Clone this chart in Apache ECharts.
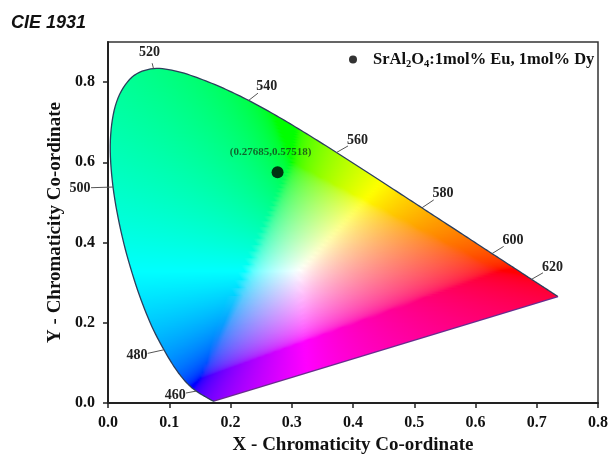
<!doctype html>
<html>
<head>
<meta charset="utf-8">
<title>CIE 1931</title>
<script src="https://cdn.jsdelivr.net/npm/echarts@6/dist/echarts.min.js"></script>
</head>
<body style="margin:0;padding:0">
<div id="main" style="width:611px;height:460px"></div>
<script>
// CIE 1931 2deg spectral locus, 380-700 nm every 5 nm
var wavelengths = [380,385,390,395,400,405,410,415,420,425,430,435,440,445,450,455,460,465,470,475,
  480,485,490,495,500,505,510,515,520,525,530,535,540,545,550,555,560,565,570,575,
  580,585,590,595,600,605,610,615,620,625,630,635,640,645,650,655,660,665,670,675,
  680,685,690,695,700];
var locusX = [0.1741,0.1740,0.1738,0.1736,0.1733,0.1730,0.1726,0.1721,0.1714,0.1703,0.1689,0.1669,0.1644,0.1611,0.1566,0.1510,0.1440,0.1355,0.1241,0.1096,
  0.0913,0.0687,0.0454,0.0235,0.0082,0.0039,0.0139,0.0389,0.0743,0.1142,0.1547,0.1929,0.2296,0.2658,0.3016,0.3373,0.3731,0.4087,0.4441,0.4788,
  0.5125,0.5448,0.5752,0.6029,0.6270,0.6482,0.6658,0.6801,0.6915,0.7006,0.7079,0.7140,0.7190,0.7230,0.7260,0.7283,0.7300,0.7311,0.7320,0.7327,
  0.7334,0.7340,0.7344,0.7346,0.7347];
var locusY = [0.0050,0.0050,0.0049,0.0049,0.0048,0.0048,0.0048,0.0048,0.0051,0.0058,0.0069,0.0086,0.0109,0.0138,0.0177,0.0227,0.0297,0.0399,0.0578,0.0868,
  0.1327,0.2007,0.2950,0.4127,0.5384,0.6548,0.7502,0.8120,0.8338,0.8262,0.8059,0.7816,0.7543,0.7243,0.6923,0.6589,0.6245,0.5896,0.5547,0.5202,
  0.4866,0.4544,0.4242,0.3965,0.3725,0.3514,0.3340,0.3197,0.3083,0.2993,0.2920,0.2859,0.2809,0.2770,0.2740,0.2717,0.2700,0.2689,0.2680,0.2673,
  0.2666,0.2660,0.2656,0.2654,0.2653];
var labelledWl = [460,480,500,520,540,560,580,600,620];
var sampleName = 'SrAl2O4:1mol% Eu, 1mol% Dy';
var sampleX = [0.27685];
var sampleY = [0.57518];
var yTicks = [0,0.2,0.4,0.6,0.8];

var serif = '"Liberation Serif", "Times New Roman", serif';
// pixel offsets of the wavelength labels from the locus
var labelOffset = {460:[-21,4],480:[-27,6],500:[-33,1],520:[-4,-16],540:[18,-14],560:[21,-12],580:[21,-14],600:[21,-13],620:[21,-12]};

// xy -> displayable sRGB (half desaturated, max-normalised)
function xyColor(x, y) {
    var X = x / y, Z = (1 - x - y) / y;
    var c = [3.2406 * X - 1.5372 - 0.4986 * Z,
             -0.9689 * X + 1.8758 + 0.0415 * Z,
             0.0557 * X - 0.2040 + 1.0570 * Z];
    var lo = Math.min(0, c[0], c[1], c[2]) * 0.5;
    c = c.map(function (v) { return Math.max(0, v - lo); });
    var m = Math.max(c[0], c[1], c[2]);
    return 'rgb(' + c.map(function (v) {
        v = v / m;
        v = v <= 0.0031308 ? 12.92 * v : 1.055 * Math.pow(v, 1 / 2.4) - 0.055;
        return Math.round(v * 255);
    }).join(',') + ')';
}

// smooth curve through the locus points (pixel space)
function smoothPath(pts) {
    var out = [], n = pts.length, sub = 8;
    for (var i = 0; i < n - 1; i++) {
        var p0 = pts[Math.max(0, i - 1)], p1 = pts[i], p2 = pts[i + 1], p3 = pts[Math.min(n - 1, i + 2)];
        for (var s = 0; s < sub; s++) {
            var t = s / sub, t2 = t * t, t3 = t2 * t;
            out.push([0, 1].map(function (d) {
                return 0.5 * (2 * p1[d] + (-p0[d] + p2[d]) * t + (2 * p0[d] - 5 * p1[d] + 4 * p2[d] - p3[d]) * t2 + (-p0[d] + 3 * p1[d] - 3 * p2[d] + p3[d]) * t3);
            }));
        }
    }
    out.push(pts[n - 1]);
    return out;
}

function renderFill(params, api) {
    var pix = locusX.map(function (x, i) { return api.coord([x, locusY[i]]); });
    var curve = smoothPath(pix);
    var o = api.coord([0, 0]), ux = api.coord([1, 0])[0] - o[0], uy = api.coord([0, 1])[1] - o[1];
    var n = curve.length;
    var ys = curve.map(function (p) { return p[1]; });
    var top = Math.floor(Math.min.apply(null, ys)), bot = Math.ceil(Math.max.apply(null, ys));
    var kids = [];
    for (var py = top; py < bot; py++) {
        var yc = py + 0.5, xs = [];
        for (var i = 0; i < n; i++) {
            var a = curve[i], b = curve[(i + 1) % n];
            if ((a[1] <= yc && b[1] > yc) || (b[1] <= yc && a[1] > yc)) {
                xs.push(a[0] + (yc - a[1]) / (b[1] - a[1]) * (b[0] - a[0]));
            }
        }
        if (xs.length < 2) continue;
        var xl = Math.min.apply(null, xs), xr = Math.max.apply(null, xs);
        var dy = (yc - o[1]) / uy;
        var stops = [];
        for (var k = 0; k <= 48; k++) {
            var t = k / 48;
            stops.push({ offset: t, color: xyColor((xl + (xr - xl) * t - o[0]) / ux, dy) });
        }
        kids.push({
            type: 'rect',
            shape: { x: xl, y: py, width: xr - xl, height: 1 },
            style: { fill: { type: 'linear', x: 0, y: 0, x2: 1, y2: 0, colorStops: stops } }
        });
    }
    kids.push({
        type: 'polyline', shape: { points: curve },
        style: { stroke: '#2c3e5c', lineWidth: 1.3, fill: null }
    });
    kids.push({
        type: 'line', shape: { x1: curve[n - 1][0], y1: curve[n - 1][1], x2: curve[0][0], y2: curve[0][1] },
        style: { stroke: '#6a2c8e', lineWidth: 1.3 }
    });
    return { type: 'group', children: kids };
}

function renderWl(params, api) {
    var wl = api.value(0);
    var p = api.coord([api.value(1), api.value(2)]);
    var off = labelOffset[wl];
    var len = Math.sqrt(off[0] * off[0] + off[1] * off[1]);
    var f = Math.max(0.25, (len - 11) / len);
    return {
        type: 'group',
        children: [{
            type: 'line',
            shape: { x1: p[0], y1: p[1], x2: p[0] + off[0] * f, y2: p[1] + off[1] * f },
            style: { stroke: '#555', lineWidth: 1 }
        }, {
            type: 'text',
            x: p[0] + off[0], y: p[1] + off[1],
            style: { text: String(wl), fill: '#222', font: 'bold 14px ' + serif, align: 'center', verticalAlign: 'middle' }
        }]
    };
}

var wlData = labelledWl.map(function (w) {
    var i = wavelengths.indexOf(w);
    return [w, locusX[i], locusY[i]];
});

var chart = echarts.init(document.getElementById('main'));
chart.setOption({
    animation: false,
    title: {
        text: 'CIE 1931', left: 6, top: 9,
        textStyle: { fontFamily: '"Liberation Sans", Arial, sans-serif', fontStyle: 'italic', fontWeight: 'bold', fontSize: 18, color: '#111' }
    },
    legend: {
        data: [{ name: sampleName, icon: 'circle' }],
        left: 344, top: 46,
        itemWidth: 30, itemHeight: 8,
        formatter: function () { return '{t|SrAl}{s|2}{t|O}{s|4}{t|:1mol% Eu, 1mol% Dy}'; },
        textStyle: {
            rich: {
                t: { fontFamily: serif, fontWeight: 'bold', fontSize: 16.5, color: '#111', lineHeight: 20 },
                s: { fontFamily: serif, fontWeight: 'bold', fontSize: 10.5, color: '#111', lineHeight: 12, verticalAlign: 'bottom' }
            }
        }
    },
    grid: { left: 108, right: 8, top: 42, bottom: 57, show: true, borderColor: '#333', borderWidth: 1.5 },
    xAxis: {
        type: 'value', min: 0, max: 0.8, interval: 0.1,
        name: 'X - Chromaticity Co-ordinate', nameLocation: 'middle', nameGap: 33,
        nameTextStyle: { fontFamily: serif, fontWeight: 'bold', fontSize: 19, color: '#111' },
        axisLine: { lineStyle: { color: '#222', width: 2 } },
        axisTick: { length: 5, lineStyle: { color: '#222', width: 1.5 } },
        axisLabel: { margin: 12, fontFamily: serif, fontWeight: 'bold', fontSize: 16, color: '#111', formatter: function (v) { return v.toFixed(1); } },
        splitLine: { show: false }
    },
    yAxis: {
        type: 'value', min: 0, max: 0.9,
        name: 'Y - Chromaticity Co-ordinate', nameLocation: 'middle', nameGap: 36,
        nameTextStyle: { fontFamily: serif, fontWeight: 'bold', fontSize: 19, color: '#111' },
        axisLine: { lineStyle: { color: '#222', width: 2 } },
        axisTick: { length: 5, lineStyle: { color: '#222', width: 1.5 }, customValues: yTicks },
        axisLabel: { margin: 13, fontFamily: serif, fontWeight: 'bold', fontSize: 16, color: '#111', customValues: yTicks, formatter: function (v) { return v.toFixed(1); } },
        splitLine: { show: false }
    },
    series: [{
        type: 'custom', name: 'fill', silent: true, z: 1,
        renderItem: renderFill, data: [[0, 0]]
    }, {
        type: 'custom', name: 'wl', silent: true, z: 3,
        renderItem: renderWl, data: wlData
    }, {
        type: 'scatter', name: sampleName, z: 4,
        symbolSize: 12,
        itemStyle: { color: '#000' },
        data: sampleX.map(function (x, i) { return [x, sampleY[i]]; }),
        label: {
            show: true, position: 'top', distance: 9, offset: [-7, 0],
            fontFamily: serif, fontWeight: 'bold', fontSize: 11, color: '#143d1a',
            formatter: function (p) { return '(' + p.value[0] + ',' + p.value[1] + ')'; }
        }
    }]
});
</script>
</body>
</html>
